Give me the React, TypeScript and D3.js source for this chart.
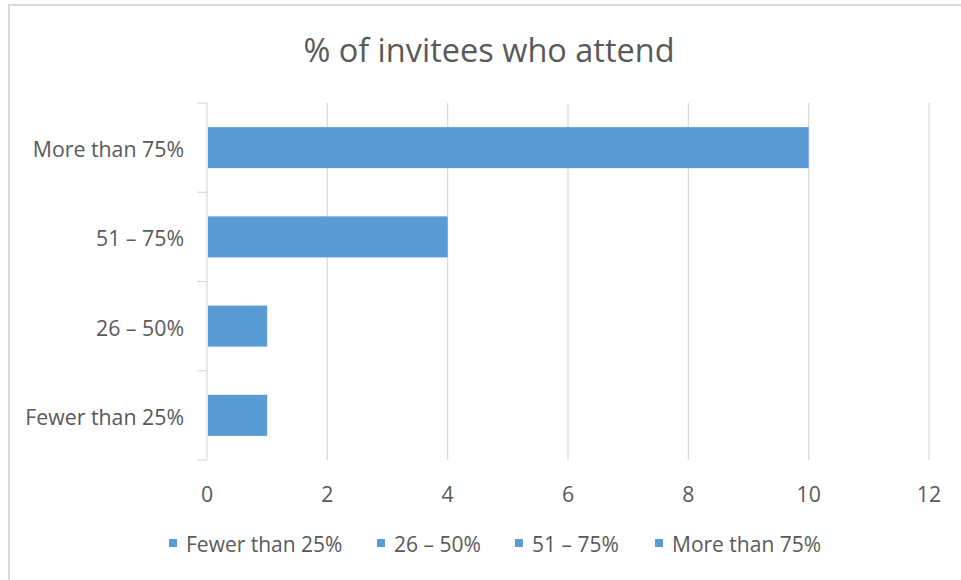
import React from "react";
import * as d3 from "d3";

const categories = ["Fewer than 25%", "26 – 50%", "51 – 75%", "More than 75%"];
const counts = [1, 1, 4, 10];
const xTicks = [0, 2, 4, 6, 8, 10, 12];
const title = "% of invitees who attend";

const W = 961;
const H = 580;
const FONT = "'Open Sans', Lato, sans-serif";
const TEXT = "#595959";
const GRID = "#d9d9d9";
const BAR = "#5b9bd5";

export default function App() {
  const x = d3.scaleLinear().domain([0, 12]).range([207, 929]);
  const y = d3
    .scaleBand<string>()
    .domain([...categories].reverse())
    .range([103, 460])
    .paddingInner(0.54)
    .paddingOuter(0.27);
  const step = y.step();
  const bandTop = (c: string) => (y(c) as number) - (step - y.bandwidth()) / 2;

  const legendX = [169, 377, 515, 655];

  return (
    <svg
      width={W}
      height={H}
      style={{ position: "absolute", left: 0, top: 0, background: "#fff" }}
    >
      <rect x={9} y={5} width={W + 10} height={H + 10} fill="#fff" stroke={GRID} strokeWidth={2} />
      <text
        x={489}
        y={49}
        textAnchor="middle"
        dominantBaseline="central"
        fontFamily={FONT}
        fontSize={32.5}
        fill={TEXT}
      >
        {title}
      </text>

      {/* vertical gridlines */}
      {xTicks.slice(1).map((t) => (
        <line key={t} x1={x(t)} x2={x(t)} y1={103} y2={460} stroke={GRID} strokeWidth={1.2} />
      ))}

      {/* category axis */}
      <line x1={207} x2={207} y1={103} y2={460} stroke={GRID} strokeWidth={1.2} />
      {categories.map((c) => (
        <line key={c} x1={197} x2={207} y1={bandTop(c)} y2={bandTop(c)} stroke={GRID} strokeWidth={1.2} />
      ))}
      <line x1={197} x2={207} y1={460} y2={460} stroke={GRID} strokeWidth={1.2} />

      {/* bars */}
      {categories.map((c, i) => (
        <rect
          key={c}
          x={x(0) + 1}
          y={y(c)}
          width={x(counts[i]) - x(0) - 1}
          height={y.bandwidth()}
          fill={BAR}
        />
      ))}

      {/* category labels */}
      {categories.map((c) => (
        <text
          key={c}
          x={184}
          y={(y(c) as number) + y.bandwidth() / 2 + 1}
          textAnchor="end"
          dominantBaseline="central"
          fontFamily={FONT}
          fontSize={21.3}
          fill={TEXT}
        >
          {c}
        </text>
      ))}

      {/* value axis labels */}
      {xTicks.map((t) => (
        <text
          key={t}
          x={x(t)}
          y={493}
          textAnchor="middle"
          dominantBaseline="central"
          fontFamily={FONT}
          fontSize={21.3}
          fill={TEXT}
        >
          {t}
        </text>
      ))}

      {/* legend */}
      {categories.map((c, i) => (
        <g key={c} transform={`translate(${legendX[i]},543)`}>
          <rect x={0} y={-4} width={8} height={8} fill={BAR} />
          <text
            x={17}
            y={1}
            dominantBaseline="central"
            fontFamily={FONT}
            fontSize={21}
            fill={TEXT}
          >
            {c}
          </text>
        </g>
      ))}
    </svg>
  );
}
